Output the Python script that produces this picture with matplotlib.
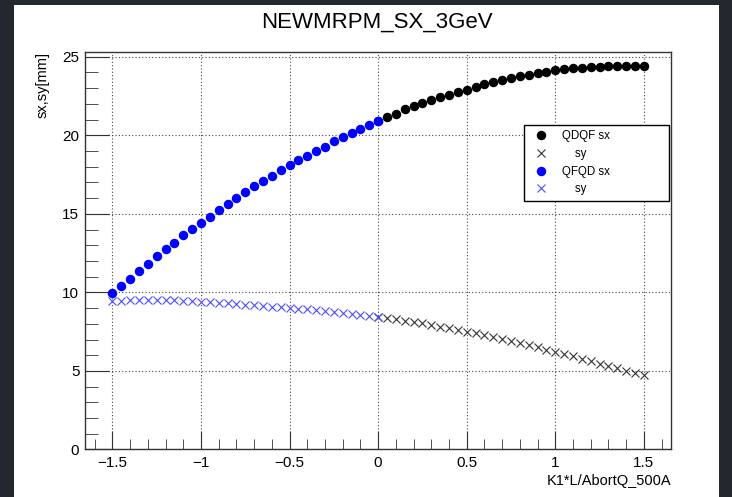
import matplotlib.pyplot as plt
from matplotlib.patches import Rectangle
from matplotlib.ticker import MultipleLocator, FuncFormatter

# K1*L scan points
x_qdqf = [0.0, 0.05, 0.1, 0.15, 0.2, 0.25, 0.3, 0.35, 0.4, 0.45, 0.5,
          0.55, 0.6, 0.65, 0.7, 0.75, 0.8, 0.85, 0.9, 0.95, 1.0,
          1.05, 1.1, 1.15, 1.2, 1.25, 1.3, 1.35, 1.4, 1.45, 1.5]
x_qfqd = [-1.5, -1.45, -1.4, -1.35, -1.3, -1.25, -1.2, -1.15, -1.1, -1.05, -1.0,
          -0.95, -0.9, -0.85, -0.8, -0.75, -0.7, -0.65, -0.6, -0.55, -0.5,
          -0.45, -0.4, -0.35, -0.3, -0.25, -0.2, -0.15, -0.1, -0.05, 0.0]

sx_qdqf = [20.89, 21.17, 21.38, 21.66, 21.87, 22.06, 22.27, 22.46, 22.59, 22.78, 22.91,
           23.10, 23.25, 23.38, 23.52, 23.67, 23.75, 23.84, 23.95, 24.03, 24.16,
           24.20, 24.25, 24.28, 24.33, 24.37, 24.39, 24.40, 24.40, 24.39, 24.38]
sy_qdqf = [8.45, 8.37, 8.29, 8.20, 8.11, 8.02, 7.92, 7.82, 7.72, 7.61, 7.50,
           7.39, 7.27, 7.15, 7.03, 6.90, 6.77, 6.64, 6.50, 6.36, 6.22,
           6.07, 5.92, 5.77, 5.62, 5.46, 5.31, 5.16, 5.00, 4.88, 4.75]
sx_qfqd = [9.98, 10.40, 10.87, 11.36, 11.83, 12.29, 12.76, 13.16, 13.63, 14.03, 14.41,
           14.82, 15.22, 15.61, 16.03, 16.36, 16.77, 17.11, 17.43, 17.77, 18.09,
           18.43, 18.68, 19.02, 19.28, 19.64, 19.89, 20.17, 20.43, 20.68, 20.89]
sy_qfqd = [9.42, 9.46, 9.49, 9.51, 9.52, 9.52, 9.51, 9.49, 9.47, 9.44, 9.41,
           9.38, 9.34, 9.30, 9.26, 9.22, 9.18, 9.14, 9.10, 9.05, 9.03,
           8.97, 8.91, 8.85, 8.79, 8.73, 8.67, 8.61, 8.55, 8.49, 8.43]

plt.rcParams['font.family'] = ['Liberation Sans', 'DejaVu Sans']

fig = plt.figure(figsize=(7.32, 4.97), dpi=100, facecolor='#23272e')
# white canvas inside the dark window border
fig.patches.append(Rectangle((14 / 732, 0), (719 - 14) / 732, 1 - 5 / 497,
                             transform=fig.transFigure, facecolor='white',
                             edgecolor='none', zorder=-5))

ax = fig.add_axes([0.116, 0.0956, 0.917 - 0.116, 0.8954 - 0.0956])
ax.set_xlim(-1.655, 1.655)
ax.set_ylim(0, 25.3)

ax.plot(x_qdqf, sx_qdqf, 'o', color='black', ms=5.8, ls='none', label='QDQF sx')
ax.plot(x_qdqf, sy_qdqf, 'x', color='#333333', ms=5.8, mew=0.8, ls='none', label='    sy')
ax.plot(x_qfqd, sx_qfqd, 'o', color='#0000ff', ms=5.8, ls='none', label='QFQD sx')
ax.plot(x_qfqd, sy_qfqd, 'x', color='#4d4dff', ms=5.8, mew=0.8, ls='none', label='    sy')

ax.xaxis.set_major_locator(MultipleLocator(0.5))
ax.xaxis.set_minor_locator(MultipleLocator(0.1))
ax.yaxis.set_major_locator(MultipleLocator(5))
ax.yaxis.set_minor_locator(MultipleLocator(1))
ax.xaxis.set_major_formatter(FuncFormatter(lambda v, p: '{:g}'.format(round(v, 2)).replace('-', '\u2212')))
ax.yaxis.set_major_formatter(FuncFormatter(lambda v, p: '{:g}'.format(v)))

ax.tick_params(which='both', direction='in', colors='#333333', labelcolor='black', labelsize=11)
ax.tick_params(axis='x', which='major', length=13, pad=5)
ax.tick_params(axis='x', which='minor', length=7)
ax.tick_params(axis='y', which='major', length=17, pad=4)
ax.tick_params(axis='y', which='minor', length=9)

ax.grid(True, which='major', color='#444444', linestyle=(0, (1, 2)), linewidth=0.8)
for s in ax.spines.values():
    s.set_color('#333333')
    s.set_linewidth(1.0)

fig.text(377 / 732, 1 - 22 / 497, 'NEWMRPM_SX_3GeV', ha='center', va='center', fontsize=16)
fig.text(43 / 732, 1 - 52 / 497, 'sx,sy[mm]', rotation=90, ha='center', va='top', fontsize=10.5)
fig.text(671 / 732, 1 - 481 / 497, 'K1*L/AbortQ_500A', ha='right', va='center', fontsize=10.5)

leg = ax.legend(loc='upper left',
                bbox_to_anchor=(524 / 732, 1 - 200 / 497, 145 / 732, 75 / 497),
                bbox_transform=fig.transFigure, mode='expand', fontsize=8.3, frameon=True,
                fancybox=False, edgecolor='black', framealpha=1, borderaxespad=0,
                borderpad=0.45, labelspacing=0.5, handlelength=2.0, handletextpad=0.85,
                numpoints=1)
leg.get_frame().set_linewidth(1.0)

fig.savefig('out.png', dpi=100, facecolor=fig.get_facecolor())
